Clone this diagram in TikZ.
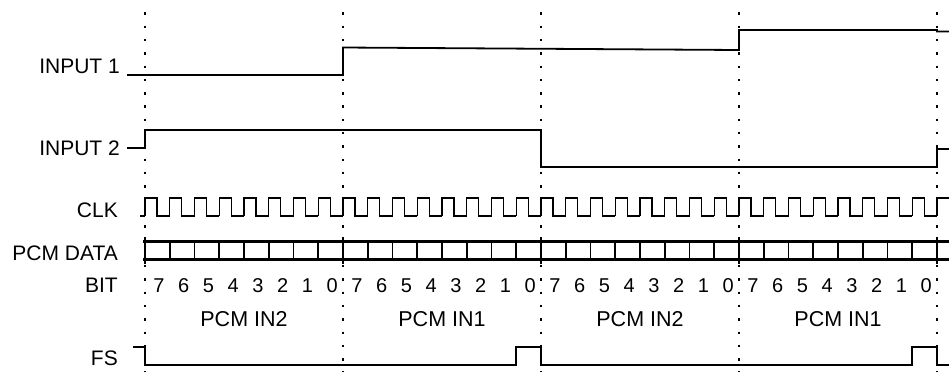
\documentclass[tikz,border=0pt]{standalone}
\usepackage{fontspec}
\setmainfont{Liberation Sans}
\begin{document}
\begin{tikzpicture}[x=1pt,y=-1pt,color=black,
    sig/.style={line width=1.8pt,line join=miter},
    clkline/.style={line width=1.4pt,line join=miter},
    bus/.style={line width=2.8pt},
    bittick/.style={line width=1.9pt},
    griddots/.style={line width=2.4pt,dash pattern=on 2.4pt off 10.9pt},
    lbl/.style={anchor=base east,inner sep=0pt,font=\fontsize{21}{21}\selectfont},
    framelbl/.style={anchor=base,inner sep=0pt,font=\fontsize{21.5}{21.5}\selectfont},
    bitnum/.style={anchor=base,inner sep=0pt,font=\fontsize{20}{20}\selectfont}]
  \useasboundingbox (0,0) rectangle (949,376);
  % frame borders
  \foreach \f in {0,...,4}{
    \draw[griddots] ({145+198*\f},12.3) -- ({145+198*\f},372);
  }
  % labels
  \node[lbl] (in1) at (120,73) {INPUT 1};
  \node[lbl] (in2) at (120,155) {INPUT 2};
  \node[lbl] (clk) at (118,217) {CLK};
  \node[lbl] (pcm) at (118,260) {PCM DATA};
  \node[lbl] (bit) at (118,292) {BIT};
  \node[lbl] (fs) at (118,365) {FS};
  % inputs
  \draw[sig] (127,75) -- (343,75) -- (343,47.5) -- (739,50) -- (739,30)
    -- (937,30) -- (937,31.5) -- (949,31.5);
  \draw[sig] (127,148) -- (145,148) -- (145,130) -- (541,130) -- (541,167)
    -- (937,167) -- (937,149) -- (949,149);
  % clock
  \draw[clkline] (140,216) -- (145,216);
  \foreach \k in {0,...,31}{
    \draw[clkline] ({145+24.75*\k},216) -- ++(0,-18) -- ++(12,0) -- ++(0,18) -- ++(12.75,0);
  }
  \draw[clkline] (937,216) -- (937,198) -- (949,198);
  % pcm data
  \draw[bus] (143,241.5) -- (949,241.5);
  \draw[bus] (143,259.5) -- (949,259.5);
  \foreach \k in {0,...,32}{
    \draw[bittick] ({145+24.75*\k},241.5) -- ({145+24.75*\k},259.5);
  }
  \foreach \f in {0,...,4}{
    \draw[bus] ({145+198*\f},237) -- ({145+198*\f},264);
  }
  % bits and frames
  \foreach \f/\name in {0/PCM IN2,1/PCM IN1,2/PCM IN2,3/PCM IN1}{
    \foreach \b [evaluate=\b as \d using int(7-\b)] in {0,...,7}{
      \node[bitnum] (b\f\b) at ({145+198*\f+24.75*\b+14},292) {\d};
    }
    \node[framelbl] (frame\f) at ({244+198*\f},326) {\name};
  }
  % frame sync
  \draw[sig] (133,347) -- (145,347) -- (145,365) -- (516.25,365) -- (516.25,347)
    -- (541,347) -- (541,365) -- (912.25,365) -- (912.25,347) -- (937,347)
    -- (937,365) -- (949,365);
\end{tikzpicture}
\end{document}
